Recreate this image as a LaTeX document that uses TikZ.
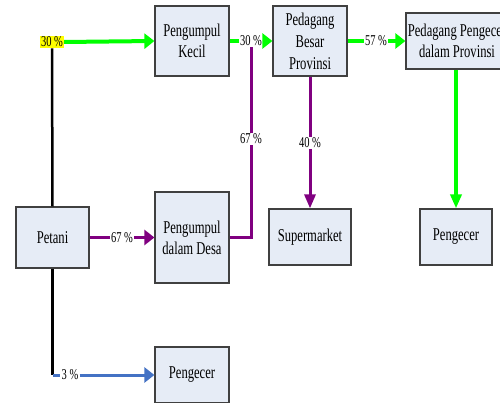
\documentclass[tikz,border=0pt]{standalone}
\usepackage{fontspec}
\setmainfont{Liberation Serif}[FakeStretch=0.7]
\usetikzlibrary{arrows.meta}
\definecolor{boxfill}{HTML}{E6ECF6}
\definecolor{boxline}{HTML}{404040}
\definecolor{ggreen}{HTML}{00FF00}
\definecolor{ppurple}{HTML}{800080}
\definecolor{bblue}{HTML}{4472C4}
\definecolor{hl}{HTML}{FFFF00}
\tikzset{
  box/.style={draw=boxline, line width=1.2pt, fill=boxfill, inner sep=0pt, align=center,
    font=\fontsize{18}{21}\selectfont},
  lbl/.style={inner sep=1pt, font=\fontsize{15}{17}\selectfont, fill=white},
  gline/.style={draw=ggreen, line width=4pt},
  pline/.style={draw=ppurple, line width=3pt},
  kline/.style={draw=black, line width=2.5pt},
  bline/.style={draw=bblue, line width=3pt},
  tiph/.style={-{Triangle[length=10pt,width=15pt]}},
  tipv/.style={-{Triangle[length=14pt,width=11pt]}},
}
\begin{document}
\begin{tikzpicture}[x=1pt,y=-1pt]
\useasboundingbox (0,0) rectangle (500,403);
\clip (0,0) rectangle (500,403);
% boxes
\node[box, minimum width=73pt, minimum height=61pt] (petani) at (52.5,237.5) {Petani};
\node[box, minimum width=74pt, minimum height=70pt] (kecil) at (192,41) {Pengumpul\\Kecil};
\node[box, minimum width=74pt, minimum height=70pt, font=\fontsize{18}{22}\selectfont] (besar) at (310,41) {Pedagang\\Besar\\Provinsi};
\node[box, minimum width=102pt, minimum height=56pt] (pprov) at (457,41) {Pedagang Pengecer\\dalam Provinsi};
\node[box, minimum width=74pt, minimum height=91pt] (desa) at (192,237.5) {Pengumpul\\dalam Desa};
\node[box, minimum width=82pt, minimum height=56pt] (super) at (310,237) {Supermarket};
\node[box, minimum width=72pt, minimum height=56pt] (peng2) at (456,237) {Pengecer};
\node[box, minimum width=74pt, minimum height=56pt] (peng1) at (192,375) {Pengecer};
% labels
\node[lbl, fill=hl] (l30a) at (52,42) {30 \%};
\node[lbl] (l30b) at (251,41) {30 \%};
\node[lbl] (l57) at (376,41) {57 \%};
\node[lbl] (l67a) at (122,237.5) {67 \%};
\node[lbl] (l67b) at (251,139) {67 \%};
\node[lbl] (l40) at (310,143) {40 \%};
\node[lbl] (l3) at (70,375) {3 \%};
\coordinate (c3) at (52.5,375);
% connectors
\draw[kline] (petani.north) -- (l30a.south);
\draw[kline] (petani.south) -- (c3);
\draw[gline, tiph] (l30a.east) -- (kecil.west);
\draw[gline] (kecil.east) -- (l30b.west);
\draw[gline, tiph] (l30b.east) -- (besar.west);
\draw[gline] (besar.east) -- (l57.west);
\draw[gline, tiph] (l57.east) -- (pprov.west);
\draw[gline, tipv] (pprov.south -| peng2.north) -- (peng2.north);
\draw[pline] (petani.east) -- (l67a.west);
\draw[pline, tiph] (l67a.east) -- (desa.west);
\draw[pline] (desa.east) -| (l67b.south);
\draw[pline] (l67b.north) -- (l30b.south);
\draw[pline] (besar.south) -- (l40.north);
\draw[pline, tipv] (l40.south) -- (super.north);
\draw[bline] (c3) -- (l3.west);
\draw[bline, tiph] (l3.east) -- (peng1.west);
\end{tikzpicture}
\end{document}
